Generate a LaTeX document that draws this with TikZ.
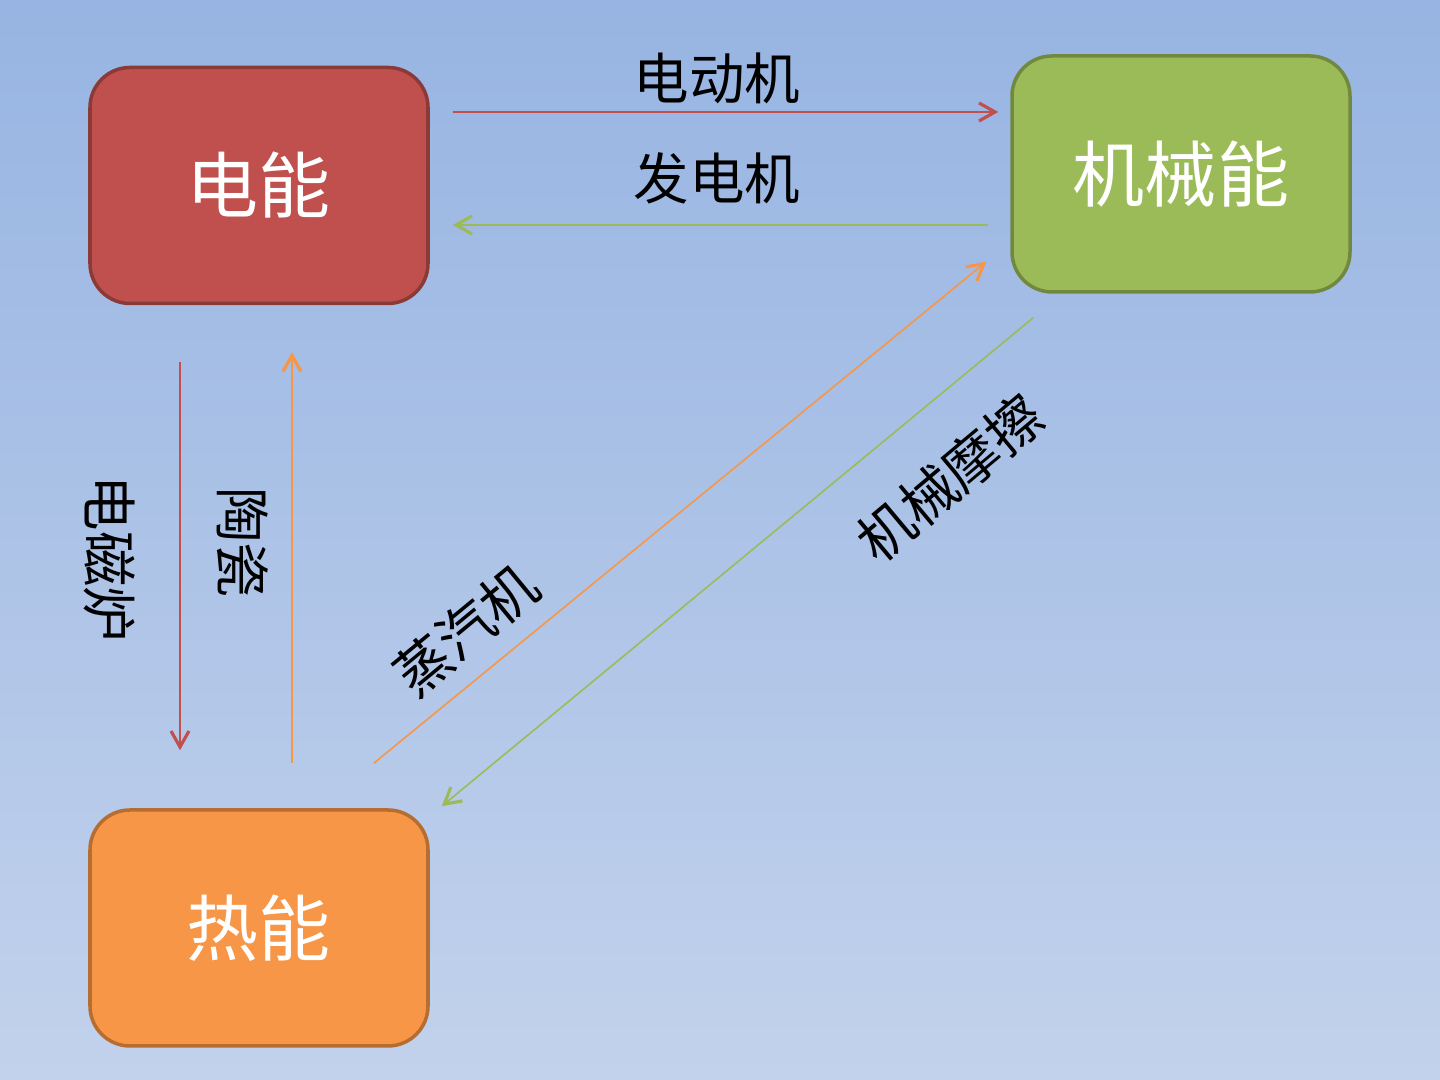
\documentclass[tikz,border=0pt]{standalone}
\usepackage{fontspec}
\usepackage{tikz}
\usetikzlibrary{arrows.meta,positioning,calc}
\newfontfamily\cjk{Noto Sans CJK SC}
\definecolor{BgTop}{HTML}{97B4E2}
\definecolor{BgBottom}{HTML}{C2D2EC}
\definecolor{ElecRed}{HTML}{C0504D}
\definecolor{ElecEdge}{HTML}{8C3A38}
\definecolor{MechGreen}{HTML}{9BBB59}
\definecolor{MechEdge}{HTML}{71893F}
\definecolor{HeatOrange}{HTML}{F79646}
\definecolor{HeatEdge}{HTML}{B66D31}

\begin{document}
\begin{tikzpicture}[>={Straight Barb[length=1.6mm,width=1.8mm,line width=0.9pt]},
 energy/.style={rounded corners=4mm,line width=1pt,minimum width=3.38cm,minimum height=2.36cm,
   text=white,font=\cjk\fontsize{20.5}{24}\selectfont},
 flow/.style={->,line width=0.45pt},
 tag/.style={font=\cjk\fontsize{15.8}{18}\selectfont,text=black,inner sep=0pt}]
\shade[top color=BgTop,bottom color=BgBottom] (0,0) rectangle (14.4,10.8);
\useasboundingbox (0,0) rectangle (14.4,10.8);
\node[energy,fill=ElecRed,draw=ElecEdge] (elec) at (2.59,8.945) {电能};
\node[energy,fill=MechGreen,draw=MechEdge] (mech) at (11.81,9.06) {机械能};
\node[energy,fill=HeatOrange,draw=HeatEdge] (heat) at (2.59,1.52) {热能};
% electric <-> mechanical
\draw[flow,ElecRed] ([shift={(0.23,0.735)}]elec.east)--([shift={(-0.12,0.62)}]mech.west);
\draw[flow,MechGreen] ([shift={(-0.22,-0.51)}]mech.west)--([shift={(0.23,-0.395)}]elec.east);
% electric <-> heat
\draw[flow,ElecRed] ([shift={(-0.79,-0.57)}]elec.south)--([shift={(-0.79,0.58)}]heat.north);
\draw[flow,HeatOrange] ([shift={(0.33,0.45)}]heat.north)--([shift={(0.33,-0.47)}]elec.south);
% heat <-> mechanical
\draw[flow,HeatOrange] ([shift={(-0.56,0.45)}]heat.north east)--([shift={(-0.24,0.32)}]mech.south west);
\draw[flow,MechGreen] ([shift={(0.23,-0.24)}]mech.south west)--([shift={(0.12,0.02)}]heat.north east);
\node[tag] (motor) at (7.17,10.02) {电动机};
\node[tag] (dynamo) at (7.17,9.02) {发电机};
\node[tag,rotate=-90] (cooker) at (1.10,5.21) {电磁炉};
\node[tag,rotate=-90] (ceramic) at (2.43,5.37) {陶瓷};
\node[tag,rotate=39.5] (steam) at (4.66,4.50) {蒸汽机};
\node[tag,rotate=40] (friction) at (9.50,6.02) {机械摩擦};
\end{tikzpicture}
\end{document}
